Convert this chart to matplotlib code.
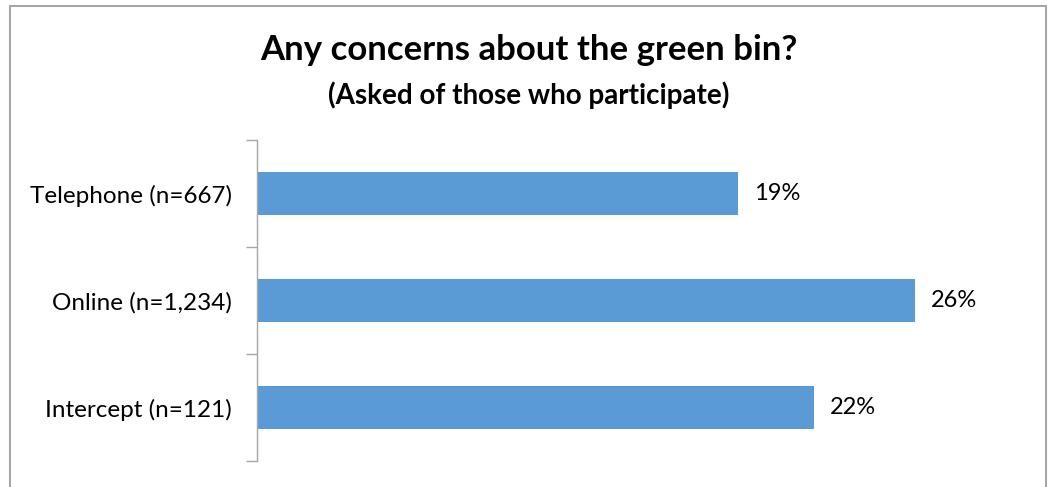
import matplotlib
matplotlib.use("Agg")
from matplotlib import pyplot as plt
from matplotlib.patches import Rectangle

plt.rcParams["font.family"] = ["Lato", "DejaVu Sans"]

# Données du graphique
categories = ["Telephone (n=667)", "Online (n=1,234)", "Intercept (n=121)"]
values = [19, 26, 22]
labels = ["19%", "26%", "22%"]

W, H = 1048, 487
fig = plt.figure(figsize=(W / 100, H / 100), dpi=100)

# Axes placés en pixels
left, right, top, bottom = 257, 1016, 140, 461
ax = fig.add_axes([left / W, 1 - bottom / H, (right - left) / W, (bottom - top) / H])

ypos = list(range(len(categories)))
ax.barh(ypos, values, height=0.4, color="#5B9BD5")
ax.set_ylim(len(categories) - 0.5, -0.5)
ax.set_xlim(0, 30)

for y, v, lab in zip(ypos, values, labels):
    ax.text(v + 0.65, y, lab, va="center", ha="left", fontsize=17, color="black")

ax.set_yticks([y - 0.5 for y in ypos] + [len(categories) - 0.5])
ax.set_yticklabels([])
ax.set_yticks(ypos, minor=True)
ax.set_yticklabels(categories, minor=True, fontsize=17.5)
ax.tick_params(axis="y", which="major", length=8, color="#A6A6A6", width=1)
ax.tick_params(axis="y", which="minor", length=0, pad=18)
ax.set_xticks([])
for s in ["top", "right", "bottom"]:
    ax.spines[s].set_visible(False)
ax.spines["left"].set_color("#A6A6A6")
ax.spines["left"].set_linewidth(1)

# Titre et sous-titre
fig.text(529 / W, 1 - 50 / H, "Any concerns about the green bin?", ha="center",
         va="center", fontsize=25, fontweight="bold")
fig.text(529 / W, 1 - 95 / H, "(Asked of those who participate)", ha="center",
         va="center", fontsize=20, fontweight="bold")

# Cadre
fig.patches.append(Rectangle((10 / W, -0.05), (1046 - 10) / W, 1.05 - 6 / H,
                             transform=fig.transFigure, fill=False,
                             edgecolor="#A6A6A6", linewidth=1.5))

fig.savefig("out.png", dpi=100)
